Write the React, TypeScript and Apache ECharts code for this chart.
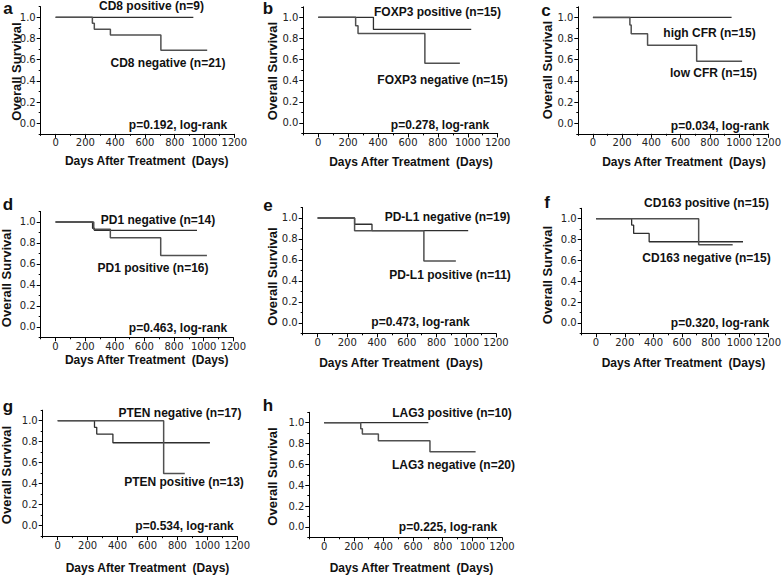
import React, { useEffect, useRef } from "react";
import * as echarts from "echarts";

// ---- axis ticks / labels ----
const xTickLabels = [0, 200, 400, 600, 800, 1000, 1200];
const xMinorTicks = [-100, 100, 300, 500, 700, 900, 1100];
const yTickLabels = [0, 0.2, 0.4, 0.6, 0.8, 1.0];
const yMinorTicks = [-0.1, 0.1, 0.3, 0.5, 0.7, 0.9, 1.1];

// ---- panel a: CD8 ----
const cd8PosDays = [0, 925];
const cd8PosSurv = [1, 1];
const cd8NegDays = [0, 247, 260, 368, 707, 1018];
const cd8NegSurv = [1, 0.943, 0.887, 0.833, 0.689, 0.689];

// ---- panel b: FOXP3 ----
const foxp3PosDays = [0, 369, 1023];
const foxp3PosSurv = [1, 0.886, 0.886];
const foxp3NegDays = [0, 250, 266, 713, 947];
const foxp3NegSurv = [1, 0.92, 0.848, 0.566, 0.566];

// ---- panel c: CFR ----
const cfrHighDays = [0, 949];
const cfrHighSurv = [1, 1];
const cfrLowDays = [0, 253, 262, 374, 710, 1021];
const cfrLowSurv = [1, 0.927, 0.845, 0.737, 0.585, 0.585];

// ---- panel d: PD1 ----
const pd1NegDays = [0, 250, 262, 955];
const pd1NegSurv = [1, 0.94, 0.92, 0.92];
const pd1PosDays = [0, 258, 370, 710, 1022];
const pd1PosSurv = [1, 0.93, 0.85, 0.68, 0.68];

// ---- panel e: PD-L1 ----
const pdl1NegDays = [0, 249, 366, 1013];
const pdl1NegSurv = [1, 0.94, 0.879, 0.879];
const pdl1PosDays = [0, 249, 715, 930];
const pdl1PosSurv = [1, 0.879, 0.59, 0.59];

// ---- panel f: CD163 ----
const cd163NegDays = [0, 248, 262, 370, 1024];
const cd163NegSurv = [1, 0.939, 0.859, 0.779, 0.779];
const cd163PosDays = [0, 715, 952];
const cd163PosSurv = [1, 0.75, 0.75];

// ---- panel g: PTEN ----
const ptenNegDays = [0, 246, 261, 369, 1017];
const ptenNegSurv = [1, 0.937, 0.873, 0.79, 0.79];
const ptenPosDays = [0, 708, 849];
const ptenPosSurv = [1, 0.498, 0.498];

// ---- panel h: LAG3 ----
const lag3PosDays = [0, 703];
const lag3PosSurv = [1, 1];
const lag3NegDays = [0, 247, 258, 366, 714, 1022];
const lag3NegSurv = [1, 0.942, 0.891, 0.827, 0.721, 0.721];

// ---- texts ----
const panelLetters = ["a", "b", "c", "d", "e", "f", "g", "h"];
const groupLabels1 = [
  "CD8 positive (n=9)",
  "FOXP3 positive (n=15)",
  "high CFR (n=15)",
  "PD1 negative (n=14)",
  "PD-L1 negative (n=19)",
  "CD163 positive (n=15)",
  "PTEN negative (n=17)",
  "LAG3 positive (n=10)",
];
const groupLabels2 = [
  "CD8 negative (n=21)",
  "FOXP3 negative (n=15)",
  "low CFR (n=15)",
  "PD1 positive (n=16)",
  "PD-L1 positive (n=11)",
  "CD163 negative (n=15)",
  "PTEN positive (n=13)",
  "LAG3 negative (n=20)",
];
const pValueLabels = [
  "p=0.192, log-rank",
  "p=0.278, log-rank",
  "p=0.034, log-rank",
  "p=0.463, log-rank",
  "p=0.473, log-rank",
  "p=0.320, log-rank",
  "p=0.534, log-rank",
  "p=0.225, log-rank",
];
const xAxisTitle = "Days After Treatment  (Days)";
const yAxisTitle = "Overall Survival";

const seriesDays = [
  [cd8PosDays, cd8NegDays],
  [foxp3PosDays, foxp3NegDays],
  [cfrHighDays, cfrLowDays],
  [pd1NegDays, pd1PosDays],
  [pdl1NegDays, pdl1PosDays],
  [cd163NegDays, cd163PosDays],
  [ptenNegDays, ptenPosDays],
  [lag3PosDays, lag3NegDays],
];
const seriesSurv = [
  [cd8PosSurv, cd8NegSurv],
  [foxp3PosSurv, foxp3NegSurv],
  [cfrHighSurv, cfrLowSurv],
  [pd1NegSurv, pd1PosSurv],
  [pdl1NegSurv, pdl1PosSurv],
  [cd163NegSurv, cd163PosSurv],
  [ptenNegSurv, ptenPosSurv],
  [lag3PosSurv, lag3NegSurv],
];

// ---- layout (pixels) ----
// grid: [left, top, width, height]
const gridBoxes = [
  [40.7, 6.7, 193.6, 127.2],
  [303.3, 6.8, 194.4, 126.6],
  [578.3, 6.8, 194, 127],
  [40.7, 211.5, 192.6, 125.8],
  [302.7, 207.5, 193.3, 125.8],
  [581.7, 208.3, 192.6, 125],
  [42.7, 410.2, 194.6, 126],
  [309.3, 412.3, 192.7, 125],
];
const letterPos = [[8, 8], [268, 8], [546, 10], [8, 204], [268, 205], [547, 202], [8, 406], [268, 405]];
const label1Pos = [[151.5, 6], [437.5, 12], [709.5, 33], [158, 220], [447.5, 217], [706.5, 203], [180, 413], [452, 413]];
const label2Pos = [[168, 63], [442.5, 80], [713.5, 73], [153, 268], [450, 275], [706.5, 258], [184, 482], [453.5, 465]];
const pPos = [[178, 125], [440, 125], [720, 126], [178, 328], [420.5, 322], [720, 323], [184.5, 526], [448, 527]];
const xTitlePos = [[146.7, 161], [411, 162], [684, 162], [146.7, 359.5], [401, 363], [683.5, 363], [147.5, 568], [411.5, 567.5]];
const yTitlePos = [[16, 71.5], [272, 71], [547.5, 70], [6.5, 278], [272.5, 276.5], [547.5, 275], [6.5, 475], [272.5, 476.5]];

const lineColors = ["#2e2e2e", "#505050"];
const lineWidths = [1.3, 1.5];
const textFont = 'bold 12px "Liberation Sans", Arial, sans-serif';

function buildOption() {
  const grid: any[] = [];
  const xAxis: any[] = [];
  const yAxis: any[] = [];
  const series: any[] = [];
  const graphic: any[] = [];

  gridBoxes.forEach((b, i) => {
    grid.push({ left: b[0], top: b[1], width: b[2], height: b[3], containLabel: false });
    // main x axis
    xAxis.push({
      type: "value",
      gridIndex: i,
      min: -100,
      max: 1200,
      interval: 100,
      position: "bottom",
      splitLine: { show: false },
      axisLine: { show: true, onZero: false, lineStyle: { color: "#000", width: 1 } },
      axisTick: { show: true, customValues: xTickLabels, length: 4, lineStyle: { color: "#000" } },
      axisLabel: {
        show: true,
        customValues: xTickLabels,
        margin: 4,
        lineHeight: 10,
        color: "#222",
        fontFamily: "DejaVu Sans",
        fontSize: 10,
        formatter: (v: number) => String(Math.round(v)),
      },
    });
    // minor x ticks
    xAxis.push({
      type: "value",
      gridIndex: i,
      min: -100,
      max: 1200,
      interval: 100,
      position: "bottom",
      splitLine: { show: false },
      axisLine: { show: false, onZero: false },
      axisTick: { show: true, customValues: xMinorTicks, length: 2, lineStyle: { color: "#000" } },
      axisLabel: { show: false },
    });
    yAxis.push({
      type: "value",
      gridIndex: i,
      min: -0.1,
      max: 1.1,
      interval: 0.1,
      position: "left",
      splitLine: { show: false },
      axisLine: { show: true, onZero: false, lineStyle: { color: "#000", width: 1 } },
      axisTick: { show: true, customValues: yTickLabels, length: 4, lineStyle: { color: "#000" } },
      axisLabel: {
        show: true,
        customValues: yTickLabels,
        margin: 5,
        color: "#222",
        fontFamily: "DejaVu Sans",
        fontSize: 10,
        formatter: (v: number) => v.toFixed(1),
      },
    });
    yAxis.push({
      type: "value",
      gridIndex: i,
      min: -0.1,
      max: 1.1,
      interval: 0.1,
      position: "left",
      splitLine: { show: false },
      axisLine: { show: false, onZero: false },
      axisTick: { show: true, customValues: yMinorTicks, length: 2, lineStyle: { color: "#000" } },
      axisLabel: { show: false },
    });

    seriesDays[i].forEach((days, k) => {
      const surv = seriesSurv[i][k];
      series.push({
        type: "line",
        xAxisIndex: i * 2,
        yAxisIndex: i * 2,
        step: "end",
        symbol: "none",
        silent: true,
        lineStyle: { color: lineColors[k], width: lineWidths[k] },
        data: days.map((d, j) => [d, surv[j]]),
      });
    });

    const txt = (x: number, y: number, text: string, font: string, rotation = 0) => ({
      type: "text",
      x,
      y,
      rotation,
      silent: true,
      style: { text, font, fill: "#111", align: "center", verticalAlign: "middle" },
    });
    graphic.push(txt(letterPos[i][0], letterPos[i][1], panelLetters[i], 'bold 17px "Liberation Sans", Arial, sans-serif'));
    graphic.push(txt(label1Pos[i][0], label1Pos[i][1], groupLabels1[i], textFont));
    graphic.push(txt(label2Pos[i][0], label2Pos[i][1], groupLabels2[i], textFont));
    graphic.push(txt(pPos[i][0], pPos[i][1], pValueLabels[i], textFont));
    graphic.push(txt(xTitlePos[i][0], xTitlePos[i][1], xAxisTitle, textFont));
    graphic.push(txt(yTitlePos[i][0], yTitlePos[i][1], yAxisTitle, 'bold 13px "Liberation Sans", Arial, sans-serif', Math.PI / 2));
  });

  return {
    animation: false,
    backgroundColor: "#ffffff",
    grid,
    xAxis,
    yAxis,
    series,
    graphic,
  };
}

export default function App() {
  const ref = useRef<HTMLDivElement>(null);
  useEffect(() => {
    if (!ref.current) return;
    const chart = echarts.init(ref.current, undefined, { renderer: "svg" });
    chart.setOption(buildOption() as any);
    return () => chart.dispose();
  }, []);
  return (
    <div
      ref={ref}
      style={{ position: "fixed", left: 0, top: 0, width: 784, height: 575, background: "#fff" }}
    />
  );
}
